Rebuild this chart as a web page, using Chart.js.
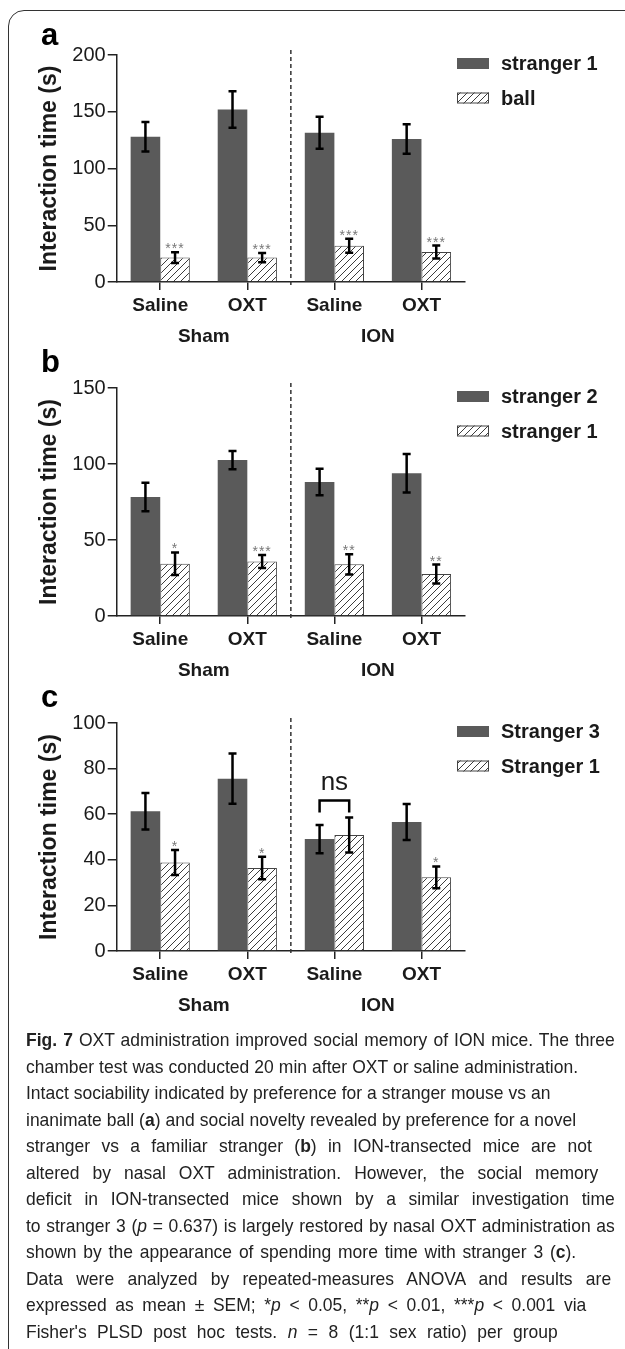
<!DOCTYPE html>
<html>
<head>
<meta charset="utf-8">
<script src="https://cdn.jsdelivr.net/npm/chart.js@4.4.1/dist/chart.umd.min.js"></script>
<style>
  html, body { margin: 0; padding: 0; background: #fff; }
  body { width: 625px; height: 1349px; position: relative; overflow: hidden; font-family: "Liberation Sans", Arial, sans-serif; }
  .frame { position: absolute; left: 8px; top: 10px; width: 660px; height: 1380px; border: 1.5px solid #333; border-radius: 16px; box-sizing: border-box; }
  .panel { position: absolute; left: 0; }
  .caption { position: absolute; left: 26px; top: 1027px; color: #222; font-size: 19px; line-height: 26.5px; }
  .caption div { transform-origin: 0 0; transform: scaleX(0.92); white-space: nowrap; text-align: justify; text-align-last: justify; }
</style>
</head>
<body>
<div class="frame"></div>
<canvas id="panelA" class="panel" width="625" height="350" style="top:0px"></canvas>
<canvas id="panelB" class="panel" width="625" height="350" style="top:333px"></canvas>
<canvas id="panelC" class="panel" width="625" height="350" style="top:668px"></canvas>

<div class="caption">
  <div style="width:640px"><b>Fig. 7</b> OXT administration improved social memory of ION mice. The three</div>
  <div style="width:600px">chamber test was conducted 20 min after OXT or saline administration.</div>
  <div style="width:570px">Intact sociability indicated by preference for a stranger mouse vs an</div>
  <div style="width:598px">inanimate ball (<b>a</b>) and social novelty revealed by preference for a novel</div>
  <div style="width:615px">stranger vs a familiar stranger (<b>b</b>) in ION-transected mice are not</div>
  <div style="width:622px">altered by nasal OXT administration. However, the social memory</div>
  <div style="width:640px">deficit in ION-transected mice shown by a similar investigation time</div>
  <div style="width:640px">to stranger 3 (<i>p</i> = 0.637) is largely restored by nasal OXT administration as</div>
  <div style="width:598px">shown by the appearance of spending more time with stranger 3 (<b>c</b>).</div>
  <div style="width:636px">Data were analyzed by repeated-measures ANOVA and results are</div>
  <div style="width:609px">expressed as mean ± SEM; *<i>p</i> &lt; 0.05, **<i>p</i> &lt; 0.01, ***<i>p</i> &lt; 0.001 via</div>
  <div style="width:578px">Fisher's PLSD post hoc tests. <i>n</i> = 8 (1:1 sex ratio) per group</div>
</div>

<script>
// shared axis labels
const categories = ['Saline', 'OXT', 'Saline', 'OXT'];
const groups = ['Sham', 'ION'];
const yTitle = 'Interaction time (s)';

// panel a
const aLabels = ['stranger 1', 'ball'];
const aStranger1 = [128, 152, 131.5, 126];
const aStranger1Err = [13, 16, 14, 13];
const aBall = [21.5, 21.5, 32, 26.4];
const aBallErr = [4.8, 4, 6.2, 5.7];
const aStars = ['***', '***', '***', '***'];

// panel b
const bLabels = ['stranger 2', 'stranger 1'];
const bStranger2 = [78.3, 102.6, 88.2, 93.9];
const bStranger2Err = [9.4, 6, 8.7, 12.6];
const bStranger1 = [34.4, 35.8, 34, 27.6];
const bStranger1Err = [7.4, 4.3, 6.7, 6.2];
const bStars = ['*', '***', '**', '**'];

// panel c
const cLabels = ['Stranger 3', 'Stranger 1'];
const cStranger3 = [61.3, 75.6, 49.1, 56.6];
const cStranger3Err = [8, 11, 6.2, 7.9];
const cStranger1 = [38.8, 36.4, 50.9, 32.3];
const cStranger1Err = [5.5, 4.9, 7.7, 4.8];
const cStars = ['*', '*', '', '*'];
const cNs = [2];

const FONT = '"Liberation Sans", Arial, sans-serif';
const DARK = '#5a5a5a';
const INK = '#1a1a1a';

function hatch() {
    var c = document.createElement('canvas');
    c.width = 7; c.height = 7;
    var g = c.getContext('2d');
    g.fillStyle = '#fff';
    g.fillRect(0, 0, 7, 7);
    g.strokeStyle = '#3c3c3c';
    g.lineWidth = 1;
    g.beginPath();
    g.moveTo(-1, 8); g.lineTo(8, -1);
    g.moveTo(-1, 1); g.lineTo(1, -1);
    g.moveTo(6, 8); g.lineTo(8, 6);
    g.stroke();
    return g.createPattern(c, 'repeat');
}

const figurePlugin = {
    id: 'figure',
    afterDatasetsDraw(chart, args, opts) {
        const ctx = chart.ctx;
        const y = chart.scales.y;
        ctx.save();
        chart.data.datasets.forEach((ds, di) => {
            const meta = chart.getDatasetMeta(di);
            meta.data.forEach((bar, i) => {
                const v = ds.data[i], e = ds.errors[i];
                const top = y.getPixelForValue(v + e), bot = y.getPixelForValue(v - e);
                ctx.strokeStyle = '#000';
                ctx.lineWidth = 2.5;
                ctx.beginPath();
                ctx.moveTo(bar.x, top); ctx.lineTo(bar.x, bot);
                ctx.moveTo(bar.x - 4, top); ctx.lineTo(bar.x + 4, top);
                ctx.moveTo(bar.x - 4, bot); ctx.lineTo(bar.x + 4, bot);
                ctx.stroke();
                if (ds.stars && ds.stars[i]) {
                    ctx.fillStyle = '#777';
                    ctx.font = '14px ' + FONT;
                    ctx.letterSpacing = '1px';
                    ctx.textAlign = 'center';
                    ctx.textBaseline = 'alphabetic';
                    ctx.fillText(ds.stars[i], bar.x, top + 1);
                    ctx.letterSpacing = '0px';
                }
            });
        });
        // "ns" bracket
        (opts.ns || []).forEach(i => {
            const b0 = chart.getDatasetMeta(0).data[i], b1 = chart.getDatasetMeta(1).data[i];
            const d0 = chart.data.datasets[0], d1 = chart.data.datasets[1];
            const top = Math.min(y.getPixelForValue(d0.data[i] + d0.errors[i]), y.getPixelForValue(d1.data[i] + d1.errors[i]));
            ctx.strokeStyle = '#000';
            ctx.lineWidth = 2.5;
            ctx.beginPath();
            ctx.moveTo(b0.x, top - 5); ctx.lineTo(b0.x, top - 17);
            ctx.lineTo(b1.x, top - 17); ctx.lineTo(b1.x, top - 5);
            ctx.stroke();
            ctx.fillStyle = INK;
            ctx.font = '26px ' + FONT;
            ctx.textAlign = 'center';
            ctx.textBaseline = 'alphabetic';
            ctx.fillText('ns', (b0.x + b1.x) / 2, top - 27);
        });
        ctx.restore();
    },
    afterDraw(chart, args, opts) {
        const ctx = chart.ctx;
        const x = chart.scales.x;
        const area = chart.chartArea;
        ctx.save();
        // dashed separator between Sham and ION
        const sx = (x.getPixelForValue(1) + x.getPixelForValue(2)) / 2;
        ctx.strokeStyle = '#333';
        ctx.lineWidth = 1.5;
        ctx.setLineDash([4, 3]);
        ctx.beginPath();
        ctx.moveTo(sx, area.top - 5);
        ctx.lineTo(sx, area.bottom + 3);
        ctx.stroke();
        ctx.setLineDash([]);
        // group labels
        ctx.fillStyle = INK;
        ctx.font = 'bold 19px ' + FONT;
        ctx.textAlign = 'center';
        ctx.textBaseline = 'middle';
        groups.forEach((g, gi) => {
            const gx = (x.getPixelForValue(gi * 2) + x.getPixelForValue(gi * 2 + 1)) / 2;
            ctx.fillText(g, gx, area.bottom + 55);
        });
        // legend
        chart.data.datasets.forEach((ds, di) => {
            const cy = area.top + 8.5 + di * 34.5;
            ctx.fillStyle = ds.backgroundColor;
            ctx.fillRect(457, cy - 5.5, 32, 11);
            if (ds.borderWidth) {
                ctx.strokeStyle = ds.borderColor;
                ctx.lineWidth = 1;
                ctx.strokeRect(457.5, cy - 5, 31, 10);
            }
            ctx.fillStyle = INK;
            ctx.font = 'bold 20px ' + FONT;
            ctx.textAlign = 'left';
            ctx.textBaseline = 'middle';
            ctx.fillText(ds.label, 501, cy + 1);
        });
        // panel letter
        ctx.fillStyle = '#000';
        ctx.font = 'bold 31px ' + FONT;
        ctx.textAlign = 'left';
        ctx.textBaseline = 'alphabetic';
        ctx.fillText(opts.letter, 41, area.top - opts.letterGap);
        ctx.restore();
    }
};

function panel(id, cfg) {
    const plotH = cfg.plotH;
    return new Chart(document.getElementById(id), {
        type: 'bar',
        data: {
            labels: categories,
            datasets: [{
                label: cfg.labels[0],
                data: cfg.main,
                errors: cfg.mainErr,
                backgroundColor: DARK,
                borderWidth: 0
            }, {
                label: cfg.labels[1],
                data: cfg.second,
                errors: cfg.secondErr,
                stars: cfg.stars,
                backgroundColor: hatch(),
                borderColor: '#444',
                borderWidth: 1
            }]
        },
        options: {
            responsive: false,
            animation: false,
            events: [],
            layout: { padding: { top: 55, right: 160, left: 0, bottom: 0 } },
            datasets: { bar: { categoryPercentage: 0.68, barPercentage: 1 } },
            plugins: {
                legend: { display: false },
                tooltip: { enabled: false },
                figure: { letter: cfg.letter, letterGap: cfg.letterGap, ns: cfg.ns }
            },
            scales: {
                x: {
                    offset: true,
                    grid: { drawOnChartArea: false, offset: false, tickLength: 8, color: '#222', lineWidth: 1.5 },
                    border: { color: '#222', width: 1.5 },
                    ticks: { color: INK, padding: 4, font: { family: FONT, size: 19, weight: 'bold' } },
                    afterFit: function (s) { s.height = 350 - 55 - plotH; }
                },
                y: {
                    min: 0,
                    max: cfg.max,
                    grid: { drawOnChartArea: false, tickLength: 9, color: '#222', lineWidth: 1.5 },
                    border: { color: '#222', width: 1.5 },
                    ticks: { stepSize: cfg.step, color: INK, padding: 2, font: { family: FONT, size: 20 } },
                    title: {
                        display: true,
                        text: yTitle,
                        color: INK,
                        font: { family: FONT, size: 23, weight: 'bold' },
                        padding: { top: 36, bottom: 0 }
                    },
                    afterFit: function (s) { s.width = 116.7; }
                }
            }
        },
        plugins: [figurePlugin]
    });
}

panel('panelA', { labels: aLabels, main: aStranger1, mainErr: aStranger1Err, second: aBall, secondErr: aBallErr,
    stars: aStars, max: 200, step: 50, plotH: 227, letter: 'a', letterGap: 10 });
panel('panelB', { labels: bLabels, main: bStranger2, mainErr: bStranger2Err, second: bStranger1, secondErr: bStranger1Err,
    stars: bStars, max: 150, step: 50, plotH: 228, letter: 'b', letterGap: 16 });
panel('panelC', { labels: cLabels, main: cStranger3, mainErr: cStranger3Err, second: cStranger1, secondErr: cStranger1Err,
    stars: cStars, max: 100, step: 20, plotH: 228, letter: 'c', letterGap: 16, ns: cNs });
</script>
</body>
</html>
